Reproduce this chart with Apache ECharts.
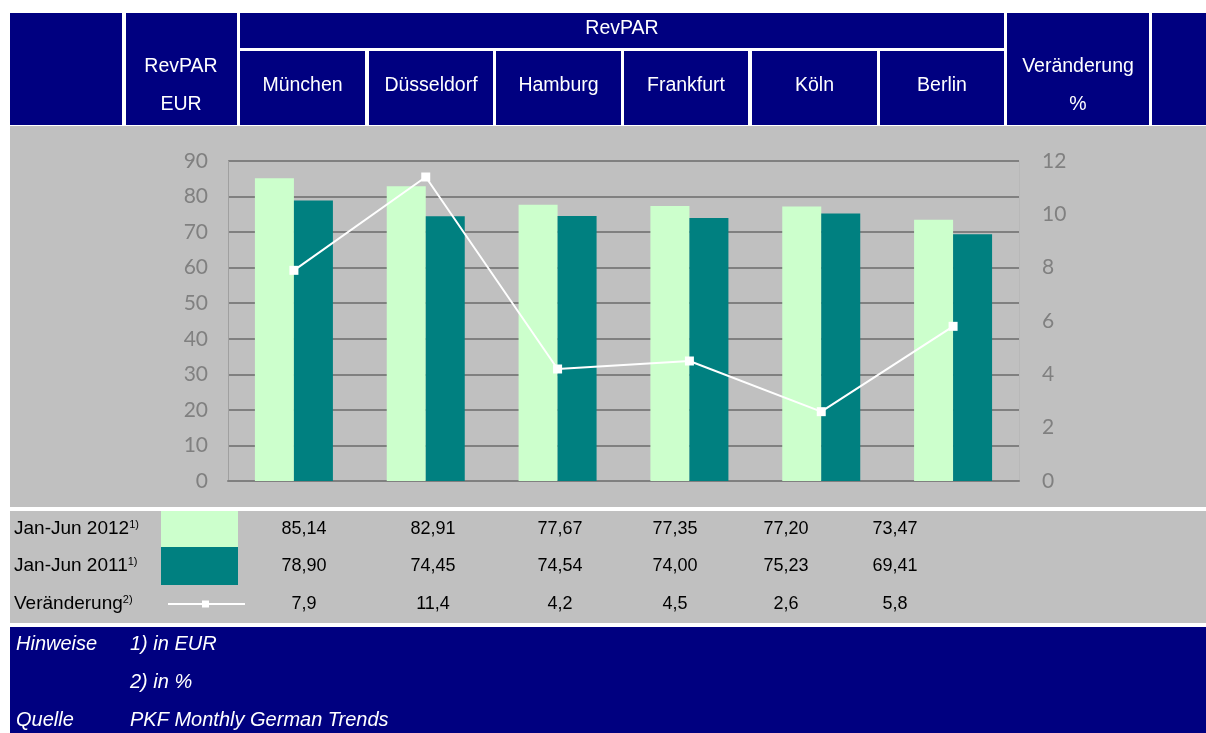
<!DOCTYPE html>
<html>
<head>
<meta charset="utf-8">
<script src="https://cdn.jsdelivr.net/npm/echarts@6/dist/echarts.min.js"></script>
<style>
html,body{margin:0;padding:0;background:#fff;}
#c{width:1206px;height:733px;}
</style>
</head>
<body>
<div id="c"></div>
<script>
// ---- data ----
const categories = ['München', 'Düsseldorf', 'Hamburg', 'Frankfurt', 'Köln', 'Berlin'];
const revpar2012 = [85.14, 82.91, 77.67, 77.35, 77.20, 73.47];
const revpar2011 = [78.90, 74.45, 74.54, 74.00, 75.23, 69.41];
const veraenderung = [7.9, 11.4, 4.2, 4.5, 2.6, 5.8];
const seriesNames = ['Jan-Jun 2012', 'Jan-Jun 2011', 'Veränderung'];
const seriesNotes = ['1)', '1)', '2)'];
const leftAxis = { min: 0, max: 90, interval: 10 };
const rightAxis = { min: 0, max: 12, interval: 2 };

// ---- layout / style ----
const NAVY = '#000080', GREY = '#C0C0C0', LIGHT = '#CCFFCC', TEAL = '#008080';
const FONT = '"Liberation Sans", Arial, sans-serif';
const cityCells = [[240,365],[369,493],[496,621],[624,748],[752,877],[880,1004]];
const valueX = [304, 433, 560, 675, 786, 895];
const rowY = [529, 566, 604];

const fmt = (v, d) => v.toFixed(d).replace('.', ',');

const g = [];
function rect(x1, y1, x2, y2, fill) {
  g.push({ type: 'rect', silent: true, z: 0, shape: { x: x1, y: y1, width: x2 - x1, height: y2 - y1 }, style: { fill: fill } });
}
function text(t, x, y, opts) {
  opts = opts || {};
  g.push({ type: 'text', silent: true, z: 10, style: Object.assign({
    text: t, x: x, y: y, fill: '#fff', font: '19.5px ' + FONT, align: 'center', verticalAlign: 'middle'
  }, opts.style || {}) });
}

// header
rect(10, 13, 122, 125, NAVY);
rect(126, 13, 237, 125, NAVY);
rect(240, 13, 1004, 48, NAVY);
cityCells.forEach(c => rect(c[0], 51, c[1], 125, NAVY));
rect(1007, 13, 1149, 125, NAVY);
rect(1152, 13, 1206, 125, NAVY);
text('RevPAR', 622, 29);
text('RevPAR', 181, 67);
text('EUR', 181, 105);
categories.forEach((c, i) => text(c, (cityCells[i][0] + cityCells[i][1]) / 2, 86));
text('Veränderung', 1078, 67);
text('%', 1078, 105);

// grey panels
rect(10, 126, 1206, 507, GREY);
rect(10, 511, 1206, 623, GREY);
// footer
rect(10, 627, 1206, 733, NAVY);

// table rows
const richSup = { s: { fontSize: 11, fontFamily: FONT, fill: '#000', verticalAlign: 'top', lineHeight: 20 }, m: { fontSize: 19, fontFamily: FONT, fill: '#000', lineHeight: 20 } };
seriesNames.forEach((n, i) => {
  g.push({ type: 'text', silent: true, z: 10, style: {
    text: '{m|' + n + '}{s|' + seriesNotes[i] + '}', x: 14, y: rowY[i], align: 'left', verticalAlign: 'middle', rich: richSup
  } });
});
// legend swatches
rect(161, 511, 238, 547, LIGHT);
rect(161, 547, 238, 585, TEAL);
g.push({ type: 'line', silent: true, z: 10, shape: { x1: 168, y1: 604, x2: 245, y2: 604 }, style: { stroke: '#fff', lineWidth: 2 } });
rect(202, 600.5, 209, 607.5, '#fff');
g[g.length - 1].z = 11;

revpar2012.forEach((v, i) => text(fmt(v, 2), valueX[i], rowY[0], { style: { fill: '#000', font: '18px ' + FONT } }));
revpar2011.forEach((v, i) => text(fmt(v, 2), valueX[i], rowY[1], { style: { fill: '#000', font: '18px ' + FONT } }));
veraenderung.forEach((v, i) => text(fmt(v, 1), valueX[i], rowY[2], { style: { fill: '#000', font: '18px ' + FONT } }));

// footer text
const it = { style: { font: 'italic 20px ' + FONT, align: 'left' } };
text('Hinweise', 16, 644, it);
text('1) in EUR', 130, 644, it);
text('2) in %', 130, 682, it);
text('Quelle', 16, 720, it);
text('PKF Monthly German Trends', 130, 720, it);

const chart = echarts.init(document.getElementById('c'), null, { renderer: 'canvas' });
chart.setOption({
  backgroundColor: '#fff',
  animation: false,
  graphic: { elements: g },
  grid: { left: 228, right: 187, top: 161, bottom: 252, containLabel: false },
  xAxis: {
    type: 'category', data: categories,
    axisLabel: { show: false }, axisTick: { show: false },
    axisLine: { show: true, lineStyle: { color: '#808080', width: 2 } }
  },
  yAxis: [
    { type: 'value', min: leftAxis.min, max: leftAxis.max, interval: leftAxis.interval,
      axisLine: { show: true, lineStyle: { color: '#A0A0A0', width: 1 } }, axisTick: { show: false },
      axisLabel: { color: '#808080', fontSize: 21, fontFamily: 'Lato, sans-serif', margin: 20 },
      splitLine: { show: true, lineStyle: { color: '#808080', width: 2 } } },
    { type: 'value', min: rightAxis.min, max: rightAxis.max, interval: rightAxis.interval, position: 'right',
      axisLine: { show: true, lineStyle: { color: '#B8B8B8', width: 1 } }, axisTick: { show: false },
      axisLabel: { color: '#808080', fontSize: 21, fontFamily: 'Lato, sans-serif', margin: 23 },
      splitLine: { show: false } }
  ],
  series: [
    { name: seriesNames[0], type: 'bar', data: revpar2012, barWidth: 39, barGap: '0%', itemStyle: { color: LIGHT }, z: 2 },
    { name: seriesNames[1], type: 'bar', data: revpar2011, barWidth: 39, barGap: '0%', itemStyle: { color: TEAL }, z: 2 },
    { name: seriesNames[2], type: 'line', yAxisIndex: 1, data: veraenderung, symbol: 'rect', symbolSize: 9,
      lineStyle: { color: '#fff', width: 2 }, itemStyle: { color: '#fff' }, z: 5 }
  ]
});
</script>
</body>
</html>
